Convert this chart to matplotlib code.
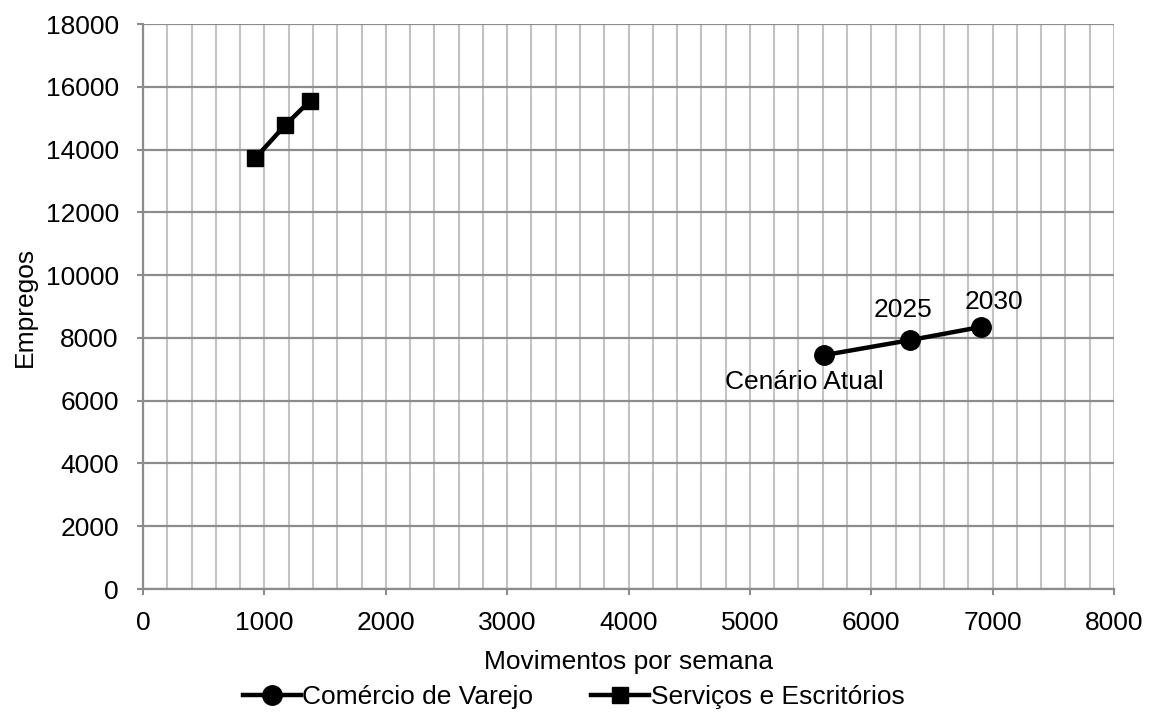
import matplotlib
matplotlib.use("Agg")
import matplotlib.pyplot as plt
from matplotlib.ticker import MultipleLocator

plt.rcParams['font.family'] = ['Liberation Sans', 'DejaVu Sans']

# Comércio de Varejo: Cenário Atual, 2025, 2030
varejo_mov = [5610, 6320, 6905]
varejo_emp = [7450, 7930, 8350]
varejo_labels = ["Cenário Atual", "2025", "2030"]

# Serviços e Escritórios
servicos_mov = [925, 1170, 1375]
servicos_emp = [13730, 14775, 15550]

x_ticks = list(range(0, 8001, 1000))
y_ticks = list(range(0, 18001, 2000))

FS = 19

fig = plt.figure(figsize=(11.54, 7.15), dpi=100)
ax = fig.add_axes([0.124, 0.1762, 0.8413, 0.7902])

grid_major = "#8c8c8c"
grid_minor = "#c3c3c3"

ax.set_xlim(0, 8000)
ax.set_ylim(0, 18000)
ax.set_xticks(x_ticks)
ax.set_yticks(y_ticks)
ax.xaxis.set_minor_locator(MultipleLocator(200))

ax.grid(axis='x', which='both', color=grid_minor, linewidth=1.5, zorder=0)
ax.grid(axis='y', which='major', color=grid_major, linewidth=1.6, zorder=0)
ax.set_axisbelow(True)

for side in ['top', 'right']:
    ax.spines[side].set_visible(False)
for side in ['left', 'bottom']:
    ax.spines[side].set_color(grid_major)
    ax.spines[side].set_linewidth(1.6)

ax.tick_params(axis='both', which='major', direction='out', length=4.5,
               width=1.5, color=grid_major, labelsize=FS)
ax.tick_params(axis='y', pad=13)
ax.tick_params(axis='x', pad=11)
ax.tick_params(axis='x', which='minor', length=0)

ax.plot(varejo_mov, varejo_emp, color='black', linewidth=3.2, marker='o',
        markersize=14, label="Comércio de Varejo", zorder=3, clip_on=False)
ax.plot(servicos_mov, servicos_emp, color='black', linewidth=3.2, marker='s',
        markersize=11, label="Serviços e Escritórios", zorder=3, clip_on=False)

label_offsets = [(-14, -19), (-5, 22), (9, 18)]
for xv, yv, txt, off in zip(varejo_mov, varejo_emp, varejo_labels, label_offsets):
    ax.annotate(txt, (xv, yv), xytext=off, textcoords='offset points',
                ha='center', va='center', fontsize=FS, color='black')

ax.set_xlabel("Movimentos por semana", fontsize=FS, labelpad=11)
ax.set_ylabel("Empregos", fontsize=FS, labelpad=6)

handles, labels = ax.get_legend_handles_labels()
fig.legend(handles, labels, loc='center', bbox_to_anchor=(0.497, 0.025),
           ncol=2, frameon=False, fontsize=FS, handlelength=2.2,
           handletextpad=0.05, columnspacing=2.2, borderaxespad=0)

fig.savefig("out.png", dpi=100)
